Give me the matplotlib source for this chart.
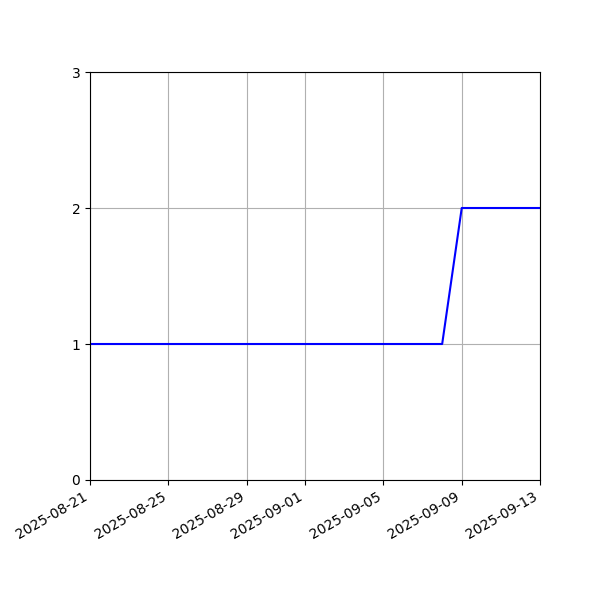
import matplotlib
matplotlib.use("Agg")
import matplotlib.pyplot as plt
import matplotlib.dates as mdates
import pandas as pd

dates = pd.date_range("2025-08-21", "2025-09-13", freq="D")
valeurs = [1] * 19 + [2] * 5  # 08-21 -> 09-08 = 1, 09-09 -> 09-13 = 2

fig, ax = plt.subplots(figsize=(6, 6), dpi=100)
ax.plot(dates, valeurs, color="blue")

ax.set_xlim(dates[0], dates[-1])
ax.set_ylim(0, 3)
ax.set_yticks([0, 1, 2, 3])
ax.xaxis.set_major_locator(mdates.DayLocator(bymonthday=[1, 5, 9, 13, 17, 21, 25, 29]))
ax.xaxis.set_major_formatter(mdates.DateFormatter("%Y-%m-%d"))
ax.grid(True)

fig.autofmt_xdate()
fig.subplots_adjust(left=0.15, right=0.9, top=0.88, bottom=0.2)
fig.savefig("out.png")
